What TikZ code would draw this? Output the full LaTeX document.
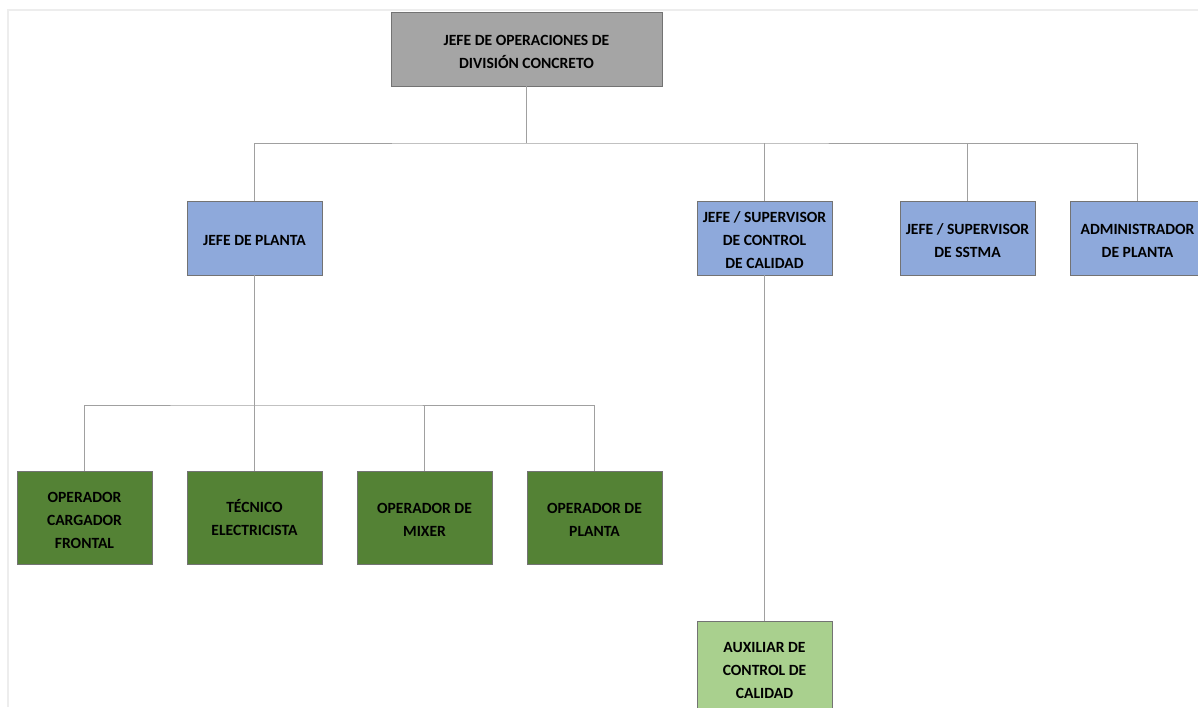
\documentclass[tikz,border=0pt]{standalone}
\usepackage{fontspec}
\setmainfont{Carlito}
\definecolor{topgray}{HTML}{A5A5A5}
\definecolor{bluebox}{HTML}{8EA9DB}
\definecolor{darkgreen}{HTML}{548235}
\definecolor{lightgreen}{HTML}{A9D08E}
\definecolor{linegray}{HTML}{A0A0A0}
\definecolor{framegray}{HTML}{EDEDED}
\newcommand{\fl}{\rule{0pt}{15.5pt}}
\begin{document}
\begin{tikzpicture}[x=1pt,y=-1pt,
  box/.style={draw=black!55, line width=0.6pt, inner sep=0pt, align=center,
    font=\fontsize{15.6}{23}\selectfont\bfseries, text=black},
  bluenode/.style={box, fill=bluebox, minimum width=135pt, minimum height=74pt},
  greennode/.style={box, fill=darkgreen, minimum width=135pt, minimum height=93pt},
  conn/.style={draw=linegray, line width=1pt}]
\useasboundingbox (0,0) rectangle (1198,707);
\fill[white] (0,0) rectangle (1198,707);
\draw[framegray, line width=2pt] (8,707) -- (8,10) -- (1198,10);

\node[box, fill=topgray, minimum width=271pt, minimum height=74pt] (top) at (526.5,49) {\fl JEFE DE OPERACIONES DE\\DIVISIÓN CONCRETO};

\node[bluenode] (planta) at (254.5,238) {\fl JEFE DE PLANTA};
\node[bluenode] (calidad) at (764.5,238) {\fl JEFE / SUPERVISOR\\DE CONTROL\\DE CALIDAD};
\node[bluenode] (sstma) at (967.5,238) {\fl JEFE / SUPERVISOR\\DE SSTMA};
\node[bluenode] (admin) at (1137.5,238) {\fl ADMINISTRADOR\\DE PLANTA};

\node[greennode] (cargador) at (84.5,517.5) {\fl OPERADOR\\CARGADOR\\FRONTAL};
\node[greennode] (tecnico) at (254.5,517.5) {TÉCNICO\\ELECTRICISTA};
\node[greennode] (mixer) at (424.5,517.5) {\fl OPERADOR DE\\MIXER};
\node[greennode] (opplanta) at (594.5,517.5) {\fl OPERADOR DE\\PLANTA};

\node[box, fill=lightgreen, minimum width=135pt, minimum height=93pt] (auxiliar) at (764.5,667.5) {\fl AUXILIAR DE\\CONTROL DE\\CALIDAD};

% connectors
\coordinate (b1) at (526.5,143);
\draw[conn] (top.south) -- (b1);
\draw[conn] (planta.north) |- (b1) -| (admin.north);
\draw[conn] (calidad.north) -- (calidad.north |- b1);
\draw[conn] (sstma.north) -- (sstma.north |- b1);

\coordinate (b2) at (254.5,405);
\draw[conn] (planta.south) -- (tecnico.north);
\draw[conn] (cargador.north) |- (b2) -| (opplanta.north);
\draw[conn] (mixer.north) -- (mixer.north |- b2);

\draw[conn] (calidad.south) -- (auxiliar.north);
\end{tikzpicture}
\end{document}
